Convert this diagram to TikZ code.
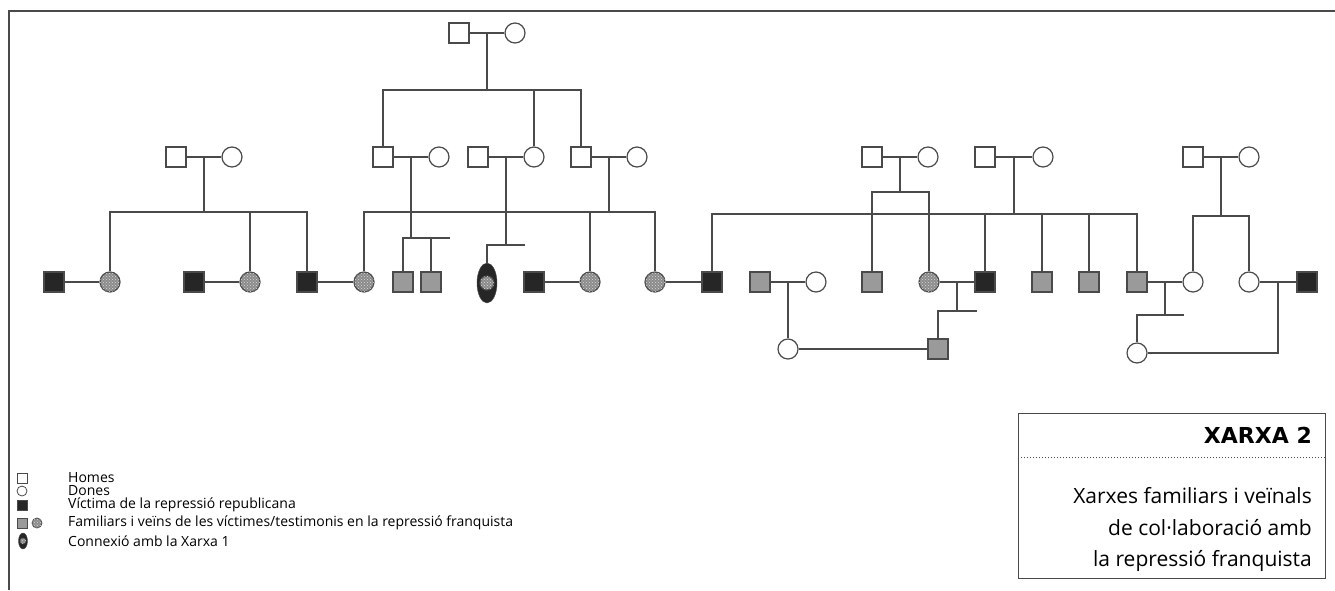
\documentclass[tikz,border=0pt]{standalone}
\usepackage{fontspec}
\setmainfont{Open Sans}
\newfontfamily\headfont{DejaVu Sans}
\usetikzlibrary{positioning,calc,shapes.geometric,patterns}
\definecolor{ink}{HTML}{4A4A4A}
\definecolor{kin}{HTML}{9A9A9A}
\definecolor{victim}{HTML}{262626}

\begin{document}
\begin{tikzpicture}[x=1pt, y=-1pt,
  link/.style={draw=ink, line width=1.2pt},
  man/.style={draw=ink, line width=1.2pt, fill=white, minimum size=20pt, inner sep=0},
  woman/.style={man, circle},
  dead/.style={man, fill=victim},
  kinm/.style={man, fill=kin},
  kinw/.style={woman, fill=kin!90!black, postaction={pattern=crosshatch dots, pattern color=white!70!gray}},
  ring/.style={ellipse, draw=ink, fill=victim, minimum width=20pt, minimum height=40pt, inner sep=0},
  key/.style={font=\fontsize{14}{16}\selectfont, anchor=west, inner sep=0},
  blurb/.style={font=\fontsize{21}{26}\selectfont, anchor=base east, inner sep=0}]
\newcommand{\wed}[3]{% partner, partner, middle
  \draw[link] (#1) -- (#2);
  \coordinate (#3) at ($(#1)!.5!(#2)$);}
\newcommand{\kids}[3]{% middle, bar y, children
  \coordinate (bar) at (0,#2);
  \draw[link] (#1) -- (#1 |- bar);
  \foreach \c in {#3} \draw[link] (\c.north) |- (#1 |- bar);}
\useasboundingbox (0,0) rectangle (1335,590);
\draw[ink, line width=1.3pt] (9,590) -- (9,11) -- (1335,11);

% people
\node[man] (gp) at (459,33) {};
\node[woman] (gm) at (515,33) {};
\foreach \n/\x in {a1/176,b1/383,c1/478,d1/581,f1/872,e1/985,g1/1193}
  \node[man] (\n) at (\x,157) {};
\foreach \n/\x in {a2/232,b2/439,c2/534,d2/637,f2/928,e2/1043,g2/1249}
  \node[woman] (\n) at (\x,157) {};
\foreach \n/\x in {v1/54,v2/194,v3/307,v4/534,v5/712,v6/985,v7/1307}
  \node[dead] (\n) at (\x,282) {};
\foreach \n/\x in {p1/110,p2/250,p3/364,p4/590,p5/655,p6/929}
  \node[kinw] (\n) at (\x,282) {};
\foreach \n/\x in {s1/403,s2/431,s3/760,s4/872,s5/1042,s6/1089,s7/1137}
  \node[kinm] (\n) at (\x,282) {};
\foreach \n/\x in {w1/816,w2/1193,w3/1249}
  \node[woman] (\n) at (\x,282) {};
\node[ring] (x1) at (487,283) {};
\node[kinw, minimum size=14pt] (x1in) at (x1) {};
\node[woman] (w4) at (788,349) {};
\node[kinm] (s8) at (938,349) {};
\node[woman] (w5) at (1137,353) {};

% couples
\wed{gp}{gm}{mt}
\wed{a1}{a2}{ma} \wed{b1}{b2}{mb} \wed{c1}{c2}{mc} \wed{d1}{d2}{md}
\wed{f1}{f2}{mf} \wed{e1}{e2}{me} \wed{g1}{g2}{mg}
\wed{v1}{p1}{m1} \wed{v2}{p2}{m2} \wed{v3}{p3}{m3} \wed{v4}{p4}{m4}
\wed{p5}{v5}{m5} \wed{s3}{w1}{m6} \wed{p6}{v6}{m7} \wed{s7}{w2}{m8}
\wed{w3}{v7}{m9} \wed{w4}{s8}{m10}

% children
\kids{mt}{90}{b1,c2,d1}
\kids{ma}{212}{p1,p2,v3}
\kids{mb}{238}{s1,s2} \draw[link] (s2 |- bar) -- ++(19,0);
\kids{mc}{245}{x1} \draw[link] (mc |- bar) -- ++(19,0);
\kids{md}{212}{p3,p4,p5}
\kids{mf}{192}{s4,p6}
\kids{me}{214}{v5,v6,s5,s6,s7}
\kids{mg}{216}{w2,w3}
\draw[link] (m6) -- (w4);
\kids{m7}{311}{s8} \draw[link] (m7 |- bar) -- ++(20,0);
\kids{m8}{315}{w5} \draw[link] (m8 |- bar) -- ++(19,0);
\draw[link] (m9) |- (w5);

% key
\node[man, minimum size=10pt, line width=.8pt] (k1) at (22,478) {};
\node[woman, minimum size=10pt, line width=.8pt] (k2) at (22,491) {};
\node[dead, minimum size=10pt, line width=.8pt] (k3) at (22,505) {};
\node[kinm, minimum size=10pt, line width=.8pt] (k4) at (22,523) {};
\node[kinw, minimum size=10pt, line width=.8pt] (k5) at (37,523) {};
\node[ring, minimum width=9pt, minimum height=16pt] (k6) at (23,541) {};
\node[kinw, minimum size=6pt, line width=.5pt] (k6in) at (k6) {};
\node[key] (t1) at (68,478) {Homes};
\node[key] (t2) at (68,491) {Dones};
\node[key] (t3) at (68,505) {Víctima de la repressió republicana};
\node[key] (t4) at (68,523) {Familiars i veïns de les víctimes/testimonis en la repressió franquista};
\node[key] (t5) at (68,541) {Connexió amb la Xarxa 1};

% title box
\draw[ink, line width=1pt] (1018,413) rectangle (1325,578);
\draw[ink, dotted, line width=1pt] (1018,457) -- (1325,457);
\node[font=\headfont\bfseries\fontsize{22}{26}\selectfont, anchor=base east, inner sep=0] (ttl) at (1312,443) {XARXA 2};
\node[blurb] (ds1) at (1312,503) {Xarxes familiars i veïnals};
\node[blurb] (ds2) at (1312,535) {de col·laboració amb};
\node[blurb] (ds3) at (1312,566) {la repressió franquista};
\end{tikzpicture}
\end{document}
